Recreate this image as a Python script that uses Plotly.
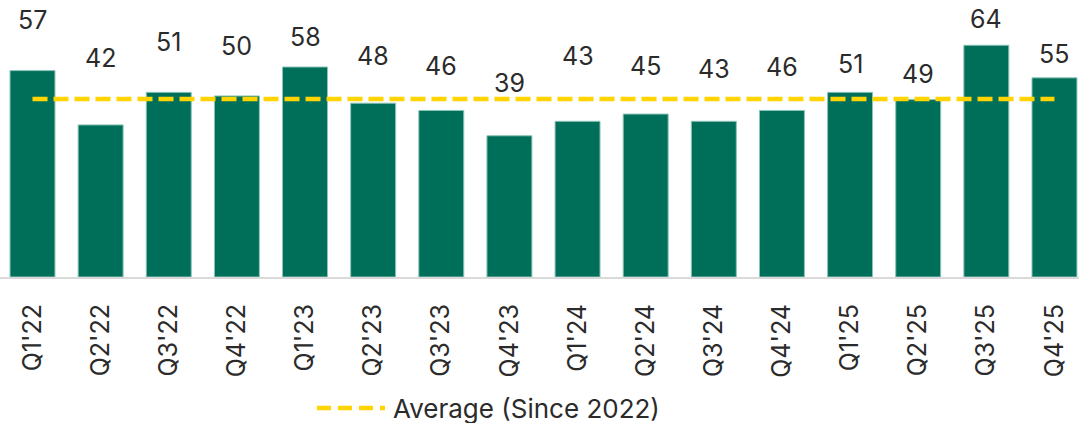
import plotly.graph_objects as go

quarters = ["Q1'22", "Q2'22", "Q3'22", "Q4'22", "Q1'23", "Q2'23", "Q3'23", "Q4'23",
            "Q1'24", "Q2'24", "Q3'24", "Q4'24", "Q1'25", "Q2'25", "Q3'25", "Q4'25"]
values = [57, 42, 51, 50, 58, 48, 46, 39, 43, 45, 43, 46, 51, 49, 64, 55]
legend_label = "Average (Since 2022)"

# pixel lift of each value label above its bar top (manual label placement in the original)
label_lift = [51, 67, 50, 50, 30, 47, 44, 53, 65, 48, 52, 43, 28, 26, 26, 24]

avg = sum(values) / len(values)

BAR = "#006F5A"
YELLOW = "#FFD400"
TXT = "#2b2b2b"
FONT = "Inter"

fig = go.Figure()
fig.add_trace(go.Bar(
    x=quarters, y=values, marker=dict(color=BAR, line=dict(color="#8cc4b8", width=1)),
    showlegend=False, hoverinfo="x+y",
))
fig.add_trace(go.Scatter(
    x=quarters, y=[avg] * len(quarters), mode="lines",
    line=dict(color=YELLOW, width=4.5, dash="15px,6px"),
    name=legend_label, showlegend=False,
))

for q, v, lift in zip(quarters, values, label_lift):
    fig.add_annotation(x=q, y=v, yshift=lift, text=str(v), showarrow=False,
                       font=dict(family=FONT, size=25, color=TXT), yanchor="middle")

# manual legend (long dashed sample like the original)
W, H, PB = 1079, 423, 146
ly = (H - PB - 408) / (H - PB)
fig.add_shape(type="line", xref="paper", yref="paper", x0=317 / W, x1=385 / W, y0=ly, y1=ly,
              line=dict(color=YELLOW, width=4.5, dash="14px,7px"))
fig.add_annotation(xref="paper", yref="paper", x=391 / W, y=ly, xanchor="left", yanchor="middle",
                   text=legend_label, showarrow=False, font=dict(family=FONT, size=26, color=TXT))

fig.update_layout(
    width=W, height=H, margin=dict(l=0, r=0, t=0, b=PB),
    plot_bgcolor="white", paper_bgcolor="white", bargap=0.34,
    font=dict(family=FONT, color=TXT),
    xaxis=dict(range=[-0.477, 15.36], showline=True, linecolor="#d9d9d9", linewidth=2,
               tickangle=-90, tickfont=dict(family=FONT, size=25, color=TXT),
               ticklabelstandoff=15, showgrid=False, zeroline=False),
    yaxis=dict(range=[0, 76.5], visible=False, showgrid=False, zeroline=False),
)

fig.write_html("out.html", config={"displayModeBar": False},
               post_script="document.body.style.margin='0';")
